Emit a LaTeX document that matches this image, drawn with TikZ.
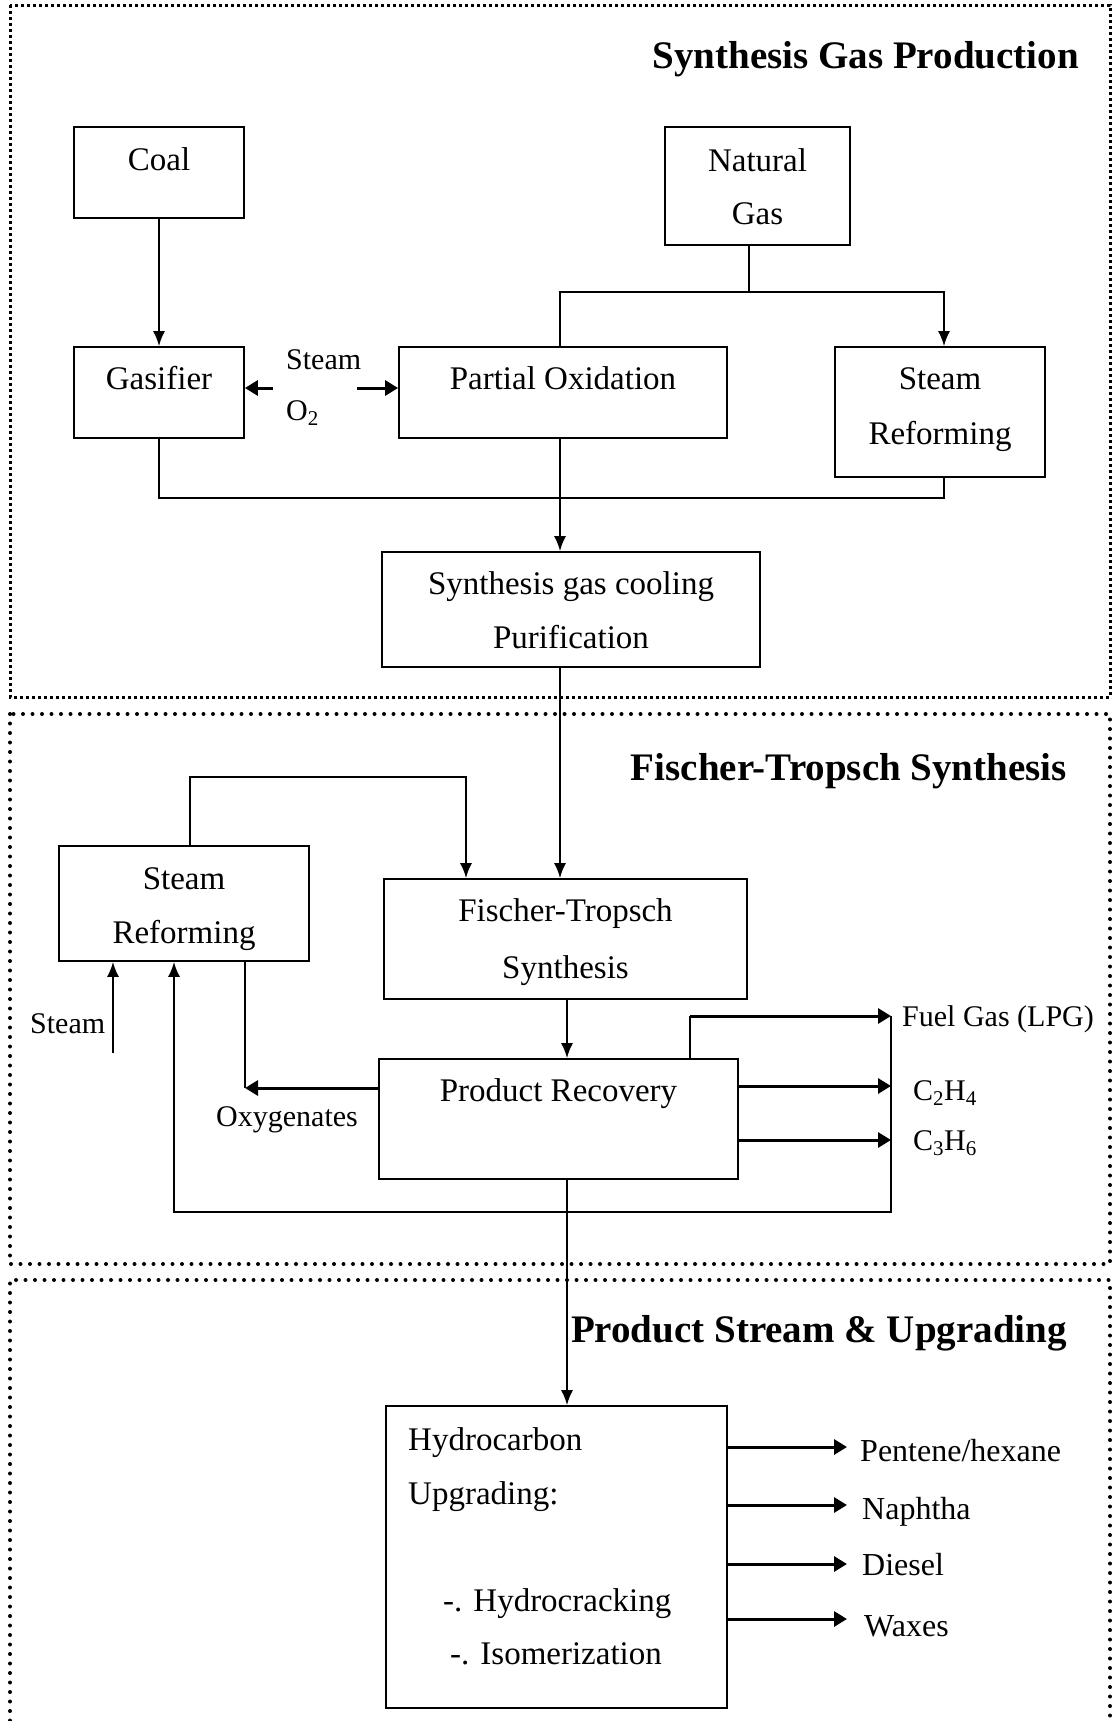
\documentclass[tikz,border=0pt]{standalone}
\usepackage{fontspec}
\setmainfont{Liberation Serif}
\usetikzlibrary{arrows.meta}
\begin{document}
\begin{tikzpicture}[x=1pt,y=-1pt,
  box/.style={draw, line width=1.8pt, inner sep=0pt},
  conn/.style={line width=1.7pt},
  arr/.style={conn, -{Latex[length=15pt,width=12pt]}},
  thk/.style={line width=3pt, -{Triangle[length=13pt,width=15pt]}},
  frameA/.style={line width=3pt, dash pattern=on 3pt off 3pt},
  frameB/.style={line width=4pt, line cap=round, dash pattern=on 0pt off 9.5pt},
  txt/.style={inner sep=0pt, anchor=base, font=\fontsize{33}{40}\selectfont},
  lbl/.style={inner sep=0pt, anchor=base west, font=\fontsize{30}{36}\selectfont},
  prod/.style={inner sep=0pt, anchor=base west, font=\fontsize{32}{38}\selectfont},
  ttl/.style={inner sep=0pt, anchor=base east, font=\fontsize{39}{46}\selectfont\bfseries}]
\useasboundingbox (0,0) rectangle (1112,1721);

% section frames
\draw[frameA] (10,5) rectangle (1110,697);
\draw[frameB] (10,714) rectangle (1110,1264);
\draw[frameB] (10,1730) -- (10,1280) -- (1110,1280) -- (1110,1730);

% titles
\node[ttl] (t1) at (1079,68) {Synthesis Gas Production};
\node[ttl] (t2) at (1067,780) {Fischer-Tropsch Synthesis};
\node[ttl] (t3) at (1067,1342) {Product Stream \& Upgrading};

% boxes
\node[box, minimum width=170pt, minimum height=91pt] (coal) at (159,172.5) {};
\node[txt] (coalT) at (159,170) {Coal};
\node[box, minimum width=185pt, minimum height=118pt] (ng) at (757.5,186) {};
\node[txt] (ngT1) at (757.5,171) {Natural};
\node[txt] (ngT2) at (757.5,224) {Gas};
\node[box, minimum width=170pt, minimum height=91pt] (gas) at (159,392.5) {};
\node[txt] (gasT) at (159,389) {Gasifier};
\node[box, minimum width=328pt, minimum height=91pt] (po) at (563,392.5) {};
\node[txt] (poT) at (563,389) {Partial Oxidation};
\node[box, minimum width=210pt, minimum height=130pt] (sr1) at (940,412) {};
\node[txt] (sr1T1) at (940,389) {Steam};
\node[txt] (sr1T2) at (940,444) {Reforming};
\node[box, minimum width=378pt, minimum height=115pt] (syn) at (571,609.5) {};
\node[txt] (synT1) at (571,594) {Synthesis gas cooling};
\node[txt] (synT2) at (571,648) {Purification};
\node[box, minimum width=250pt, minimum height=115pt] (sr2) at (184,903.5) {};
\node[txt] (sr2T1) at (184,889) {Steam};
\node[txt] (sr2T2) at (184,943) {Reforming};
\node[box, minimum width=363pt, minimum height=120pt] (ft) at (565.5,939) {};
\node[txt] (ftT1) at (565.5,921) {Fischer-Tropsch};
\node[txt] (ftT2) at (565.5,978) {Synthesis};
\node[box, minimum width=359pt, minimum height=120pt] (pr) at (558.5,1119) {};
\node[txt] (prT) at (558.5,1101) {Product Recovery};
\node[box, minimum width=341pt, minimum height=302pt] (hc) at (556.5,1557) {};
\node[txt, anchor=base west] (hcT1) at (408,1450) {Hydrocarbon};
\node[txt, anchor=base west] (hcT2) at (408,1504) {Upgrading:};
\node[txt, anchor=base west] (hcT3) at (443,1611) {-. Hydrocracking};
\node[txt, anchor=base west] (hcT4) at (450,1664) {-. Isomerization};

% labels
\node[lbl] (stL) at (286,369) {Steam};
\node[lbl] (o2L) at (286,420) {O\textsubscript{2}};
\node[lbl] (st2L) at (30,1033) {Steam};
\node[lbl] (oxL) at (216,1126) {Oxygenates};
\node[lbl] (fgL) at (902,1026) {Fuel Gas (LPG)};
\node[lbl] (c2L) at (913,1100) {C\textsubscript{2}H\textsubscript{4}};
\node[lbl] (c3L) at (913,1150) {C\textsubscript{3}H\textsubscript{6}};
\node[prod] (p1) at (860,1461) {Pentene/hexane};
\node[prod] (p2) at (862,1519) {Naphtha};
\node[prod] (p3) at (862,1575) {Diesel};
\node[prod] (p4) at (864,1636) {Waxes};

% coordinates
\coordinate (n1) at (749,292);
\coordinate (b1) at (560,292);
\coordinate (b2) at (944,292);
\coordinate (m1) at (157,498);
\coordinate (m2) at (944,498);
\coordinate (sl) at (273,388);
\coordinate (sr) at (357,388);
\coordinate (l1) at (190,777);
\coordinate (l2) at (466,777);
\coordinate (v) at (567,1000);
\coordinate (f1) at (690,1016);
\coordinate (f2) at (891,1016);
\coordinate (c2) at (891,1086);
\coordinate (c3) at (891,1140);
\coordinate (r1) at (891,1212);
\coordinate (r2) at (174,1212);
\coordinate (st) at (113,1053);
\coordinate (ox) at (245,1088);
\coordinate (h1) at (847,1447);
\coordinate (h2) at (847,1505);
\coordinate (h3) at (847,1564);
\coordinate (h4) at (847,1619);

% synthesis gas production
\draw[arr] (coal.south) -- (gas.north);
\draw[conn] (n1 |- ng.south) -- (n1);
\draw[arr] (b1 |- po.north) -- (b1) -- (b2) -- (b2 |- sr1.north);
\draw[thk] (sl) -- (sl -| gas.east);
\draw[thk] (sr) -- (sr -| po.west);
\draw[conn] (gas.south) -- (gas.south |- m1) -- (m2) -- (m2 |- sr1.south);
\draw[arr] (b1 |- po.south) -- (b1 |- syn.north);

% fischer-tropsch
\draw[arr] (b1 |- syn.south) -- (b1 |- ft.north);
\draw[arr] (l1 |- sr2.north) -- (l1) -- (l2) -- (l2 |- ft.north);
\draw[arr] (v |- ft.south) -- (v |- pr.north);
\draw[conn] (f1 |- pr.north) -- (f1);
\draw[thk] (f1) -- (f2);
\draw[thk] (c2 -| pr.east) -- (c2);
\draw[thk] (c3 -| pr.east) -- (c3);
\draw[arr] (f2) -- (r1) -- (r2) -- (r2 |- sr2.south);
\draw[arr] (st) -- (st |- sr2.south);
\draw[conn] (ox |- sr2.south) -- (ox);
\draw[thk] (ox -| pr.west) -- (ox);

% upgrading
\draw[arr] (v |- pr.south) -- (v |- hc.north);
\draw[thk] (h1 -| hc.east) -- (h1);
\draw[thk] (h2 -| hc.east) -- (h2);
\draw[thk] (h3 -| hc.east) -- (h3);
\draw[thk] (h4 -| hc.east) -- (h4);
\end{tikzpicture}
\end{document}
